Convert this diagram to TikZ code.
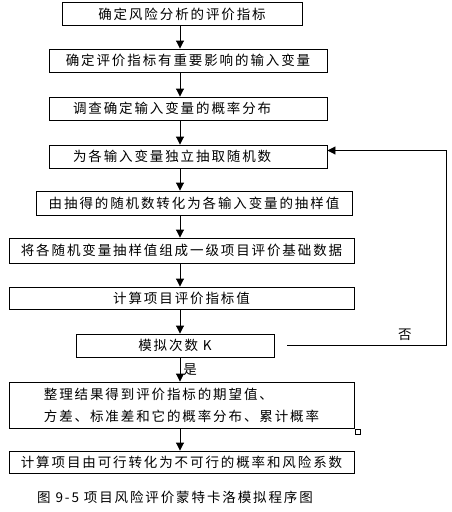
\documentclass[tikz,border=0pt]{standalone}
\usepackage{fontspec}
\newfontfamily\cjk{Noto Sans CJK SC}[LetterSpace=14]
\usetikzlibrary{arrows.meta, calc}
\tikzset{
  stepbox/.style = {draw=black, line width=0.9pt, inner sep=0pt,
                    minimum height=23pt, font=\cjk\fontsize{13.5}{22}\selectfont},
  leftbox/.style = {stepbox, inner xsep=24pt, text width=230pt, align=left},
  flow/.style    = {-{Triangle[length=8pt,width=8pt]}, line width=0.9pt},
  lbl/.style     = {inner sep=1pt, font=\cjk\fontsize{13.5}{16}\selectfont},
}

\begin{document}
\begin{tikzpicture}[x=1pt, y=-1pt]
  \useasboundingbox (0,0) rectangle (452,512);

  % Steps of the simulation
  \node[stepbox, minimum width=240pt] (b1) at (182,14) {确定风险分析的评价指标};
  \node[stepbox, minimum width=278pt] (b2) at (188,60.5) {确定评价指标有重要影响的输入变量};
  \node[leftbox] (b3) at (188,108.5) {调查确定输入变量的概率分布};
  \node[leftbox] (b4) at (188,156.5) {为各输入变量独立抽取随机数};
  \node[stepbox, minimum width=316pt, minimum height=24pt] (b5) at (194,203) {由抽得的随机数转化为各输入变量的抽样值};
  \node[stepbox, minimum width=345pt, minimum height=25pt] (b6) at (181.5,250.5) {将各随机变量抽样值组成一级项目评价基础数据};
  \node[stepbox, minimum width=345pt, minimum height=22pt] (b7) at (181.5,298) {计算项目评价指标值};
  \node[stepbox, minimum width=198pt] (b8) at (175,345.5) {模拟次数 K};
  \node[stepbox, minimum width=345pt, minimum height=46pt, align=left]
        (b9) at (181.5,405) {整理结果得到评价指标的期望值、\\方差、标准差和它的概率分布、累计概率};
  \node[draw, line width=0.8pt, minimum size=5pt, inner sep=0pt] (mark9) at (358,431.5) {};
  \node[stepbox, minimum width=345pt, minimum height=22pt] (b10) at (181.5,462) {计算项目由可行转化为不可行的概率和风险系数};

  % Arrows down the main column
  \coordinate (col) at (180,0);
  \foreach \a/\b in {b1/b2, b2/b3, b3/b4, b4/b5, b5/b6, b6/b7, b7/b8, b9/b10}
    \draw[flow] (\a.south -| col) -- (\b.north -| col);
  \draw[flow] (b8.south -| col) -- node[lbl, anchor=west, xshift=2pt] (yes) {是} (b9.north -| col);

  % Loop back for the next trial
  \coordinate (back) at (446,0);
  \draw[flow, shorten <=13pt] (b8.east) -- node[lbl, pos=0.76, above=3pt] (no) {否}
        (b8.east -| back) |- ([yshift=6pt]b4.east);

  % Caption
  \node[lbl] (cap) at (175,497) {图 9-5 项目风险评价蒙特卡洛模拟程序图};
\end{tikzpicture}
\end{document}
